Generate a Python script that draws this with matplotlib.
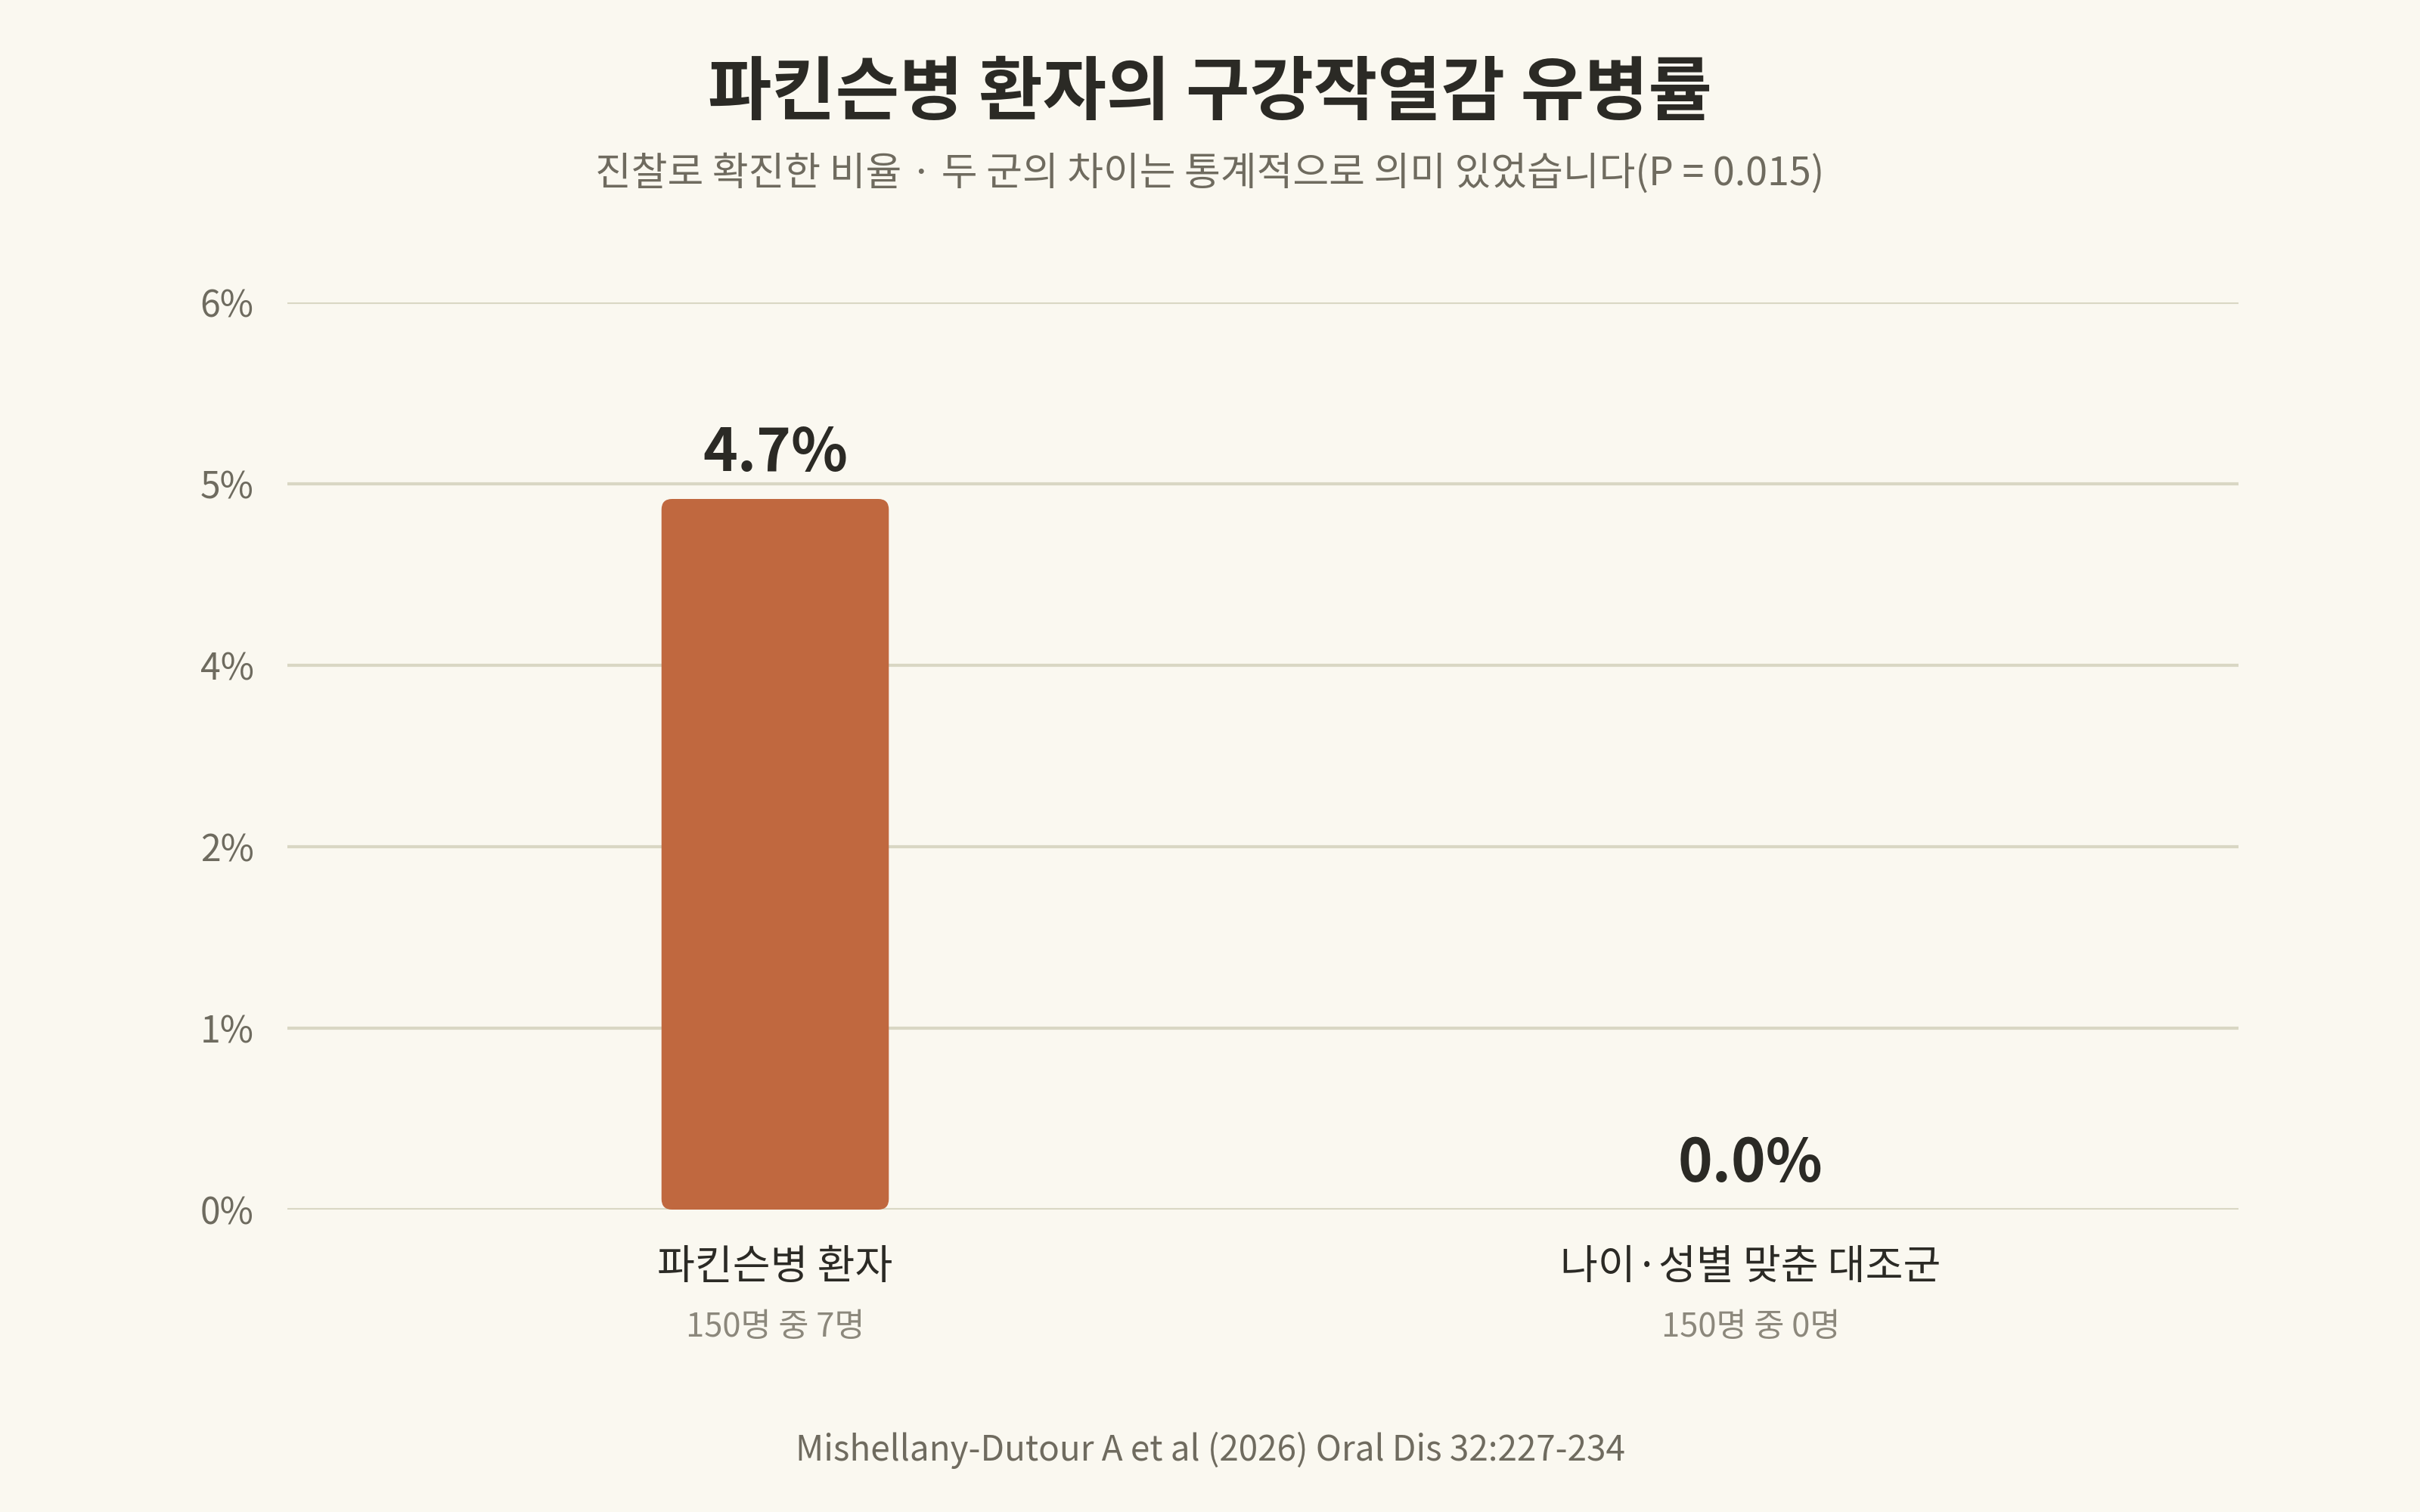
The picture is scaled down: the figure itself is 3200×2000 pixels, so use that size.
import matplotlib
matplotlib.use("Agg")
import matplotlib.pyplot as plt
from matplotlib.patches import FancyBboxPatch
import matplotlib.transforms as mtransforms

plt.rcParams['font.family'] = ['Noto Sans CJK KR', 'DejaVu Sans']

# ---- data ----
categories = ["파킨슨병 환자", "나이·성별 맞춘 대조군"]
sublabels = ["150명 중 7명", "150명 중 0명"]
values = [4.7, 0.0]
value_labels = ["4.7%", "0.0%"]
ytick_values = [0, 1.2, 2.4, 3.6, 4.8, 6.0]
ytick_labels = ["0%", "1%", "2%", "4%", "5%", "6%"]
title = "파킨슨병 환자의 구강작열감 유병률"
subtitle = "진찰로 확진한 비율 · 두 군의 차이는 통계적으로 의미 있었습니다(P = 0.015)"
source = "Mishellany-Dutour A et al (2026) Oral Dis 32:227-234"

BG = "#FAF8F0"
BAR = "#C0683F"
GRID = "#D9D7C4"
DARK = "#2B2A25"
GRAY = "#6F6B5F"
TICK = "#6E6B5F"
SUB = "#8C887C"

fig = plt.figure(figsize=(16, 10), dpi=200, facecolor=BG)
ax = fig.add_axes([380/3200, 0.2, (2960-380)/3200, 0.6])
ax.set_facecolor(BG)

x = list(range(len(categories)))
bars = ax.bar(x, values, width=0.233, color=BAR)
ax.set_xlim(-0.5, len(categories) - 0.5)
ax.set_ylim(0, 6)

# rounded bars
aspect = (6 / 1200) / (2 / 2580)
r = 14 * 2 / 2580
for b in bars:
    h = b.get_height()
    if h > 0:
        p = FancyBboxPatch((b.get_x(), 0), b.get_width(), h,
                           boxstyle=f"round,pad=0,rounding_size={r}",
                           mutation_aspect=aspect, fc=BAR, ec="none", zorder=3)
        ax.add_patch(p)
    b.set_visible(False)

ax.set_yticks(ytick_values)
ax.set_yticklabels(ytick_labels, fontsize=17.3, color=TICK)
ax.tick_params(axis='y', length=0, pad=16)
ax.set_xticks([])
ax.grid(axis='y', color=GRID, linewidth=1.5, zorder=0)
ax.set_axisbelow(True)
for s in ax.spines.values():
    s.set_visible(False)

for xi, v, lab in zip(x, values, value_labels):
    ax.annotate(lab, (xi, v), xytext=(0, 13.5), textcoords='offset points',
                ha='center', va='baseline', fontsize=28, fontweight='bold', color=DARK)

trans = mtransforms.blended_transform_factory(ax.transData, fig.transFigure)
for xi, c, s in zip(x, categories, sublabels):
    fig.text(xi, 1 - 1676/2000, c, transform=trans, ha='center', va='center',
             fontsize=19.5, color=DARK)
    fig.text(xi, 1 - 1756/2000, s, transform=trans, ha='center', va='center',
             fontsize=15.7, color=SUB)

fig.text(0.5, 1 - 124/2000, title, ha='center', va='center', fontsize=33,
         fontweight='bold', color=DARK)
fig.text(0.5, 1 - 230/2000, subtitle, ha='center', va='center', fontsize=18.7,
         color=GRAY)
fig.text(0.5, 1 - 1918/2000, source, ha='center', va='center', fontsize=16.5,
         color=GRAY)

fig.savefig("out.png", dpi=200, facecolor=BG)
